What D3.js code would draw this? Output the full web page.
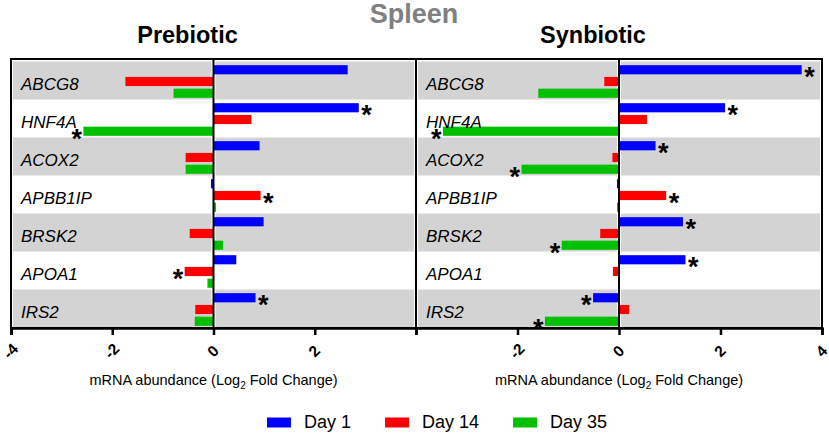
<!DOCTYPE html>
<html>
<head>
<meta charset="utf-8">
<script src="https://cdnjs.cloudflare.com/ajax/libs/d3/7.8.5/d3.min.js"></script>
<style>
  html, body { margin: 0; padding: 0; background: #fff; }
  svg { display: block; font-family: "Liberation Sans", Arial, sans-serif; }
</style>
</head>
<body>
<svg id="chart" width="829" height="434"></svg>
<script>
// Gene rows, top to bottom
const genes = ['ABCG8', 'HNF4A', 'ACOX2', 'APBB1IP', 'BRSK2', 'APOA1', 'IRS2'];
const days = ['Day 1', 'Day 14', 'Day 35'];

// Prebiotic, log2 fold change
const preDay1 = [2.65, 2.87, 0.91, -0.05, 0.99, 0.45, 0.83];
const preDay14 = [-1.74, 0.75, -0.55, 0.93, -0.47, -0.57, -0.36];
const preDay35 = [-0.79, -2.57, -0.55, 0.05, 0.19, -0.12, -0.37];
const preSig1 = [0, 1, 0, 0, 0, 0, 1];
const preSig14 = [0, 0, 0, 1, 0, 1, 0];
const preSig35 = [0, 1, 0, 0, 0, 0, 0];

// Synbiotic, log2 fold change
const synDay1 = [3.6, 2.09, 0.72, -0.04, 1.26, 1.31, -0.51];
const synDay14 = [-0.29, 0.55, -0.13, 0.93, -0.37, -0.12, 0.2];
const synDay35 = [-1.59, -3.47, -1.92, -0.04, -1.13, 0, -1.46];
const synSig1 = [1, 1, 1, 0, 1, 1, 1];
const synSig14 = [0, 0, 0, 1, 0, 0, 0];
const synSig35 = [0, 1, 1, 0, 1, 0, 1];

const xDomain = [-4, 4];
const leftTicks = [-4, -2, 0, 2];
const rightTicks = [-2, 0, 2, 4];
const tickLabels = { '-4': '-4', '-2': '-2', '0': '0', '2': '2', '4': '4' };

const COLORS = { 'Day 1': '#0000ff', 'Day 14': '#ff0000', 'Day 35': '#00c000' };

const svg = d3.select('#chart');
const plotTop = 59, plotBottom = 328;

const y = d3.scaleBand().domain(genes).range([61.5, 327.5]).paddingInner(0);
const yDay = d3.scaleBand().domain(days).range([2.5, y.bandwidth() - 0.5])
  .paddingInner(0.22).paddingOuter(0.1);

// Titles
svg.append('text')
  .attr('x', 414).attr('y', 23).attr('text-anchor', 'middle')
  .attr('fill', '#808080').attr('font-size', '27px').attr('font-weight', 'bold')
  .text('Spleen');

function drawPanel(title, x0, x1, series, sigs, ticks) {
  const x = d3.scaleLinear().domain(xDomain).range([x0, x1]);
  const g = svg.append('g');

  g.append('text')
    .attr('x', x(0) - 26).attr('y', 43).attr('text-anchor', 'middle')
    .attr('fill', '#000').attr('font-size', '23.5px').attr('font-weight', 'bold')
    .text(title);

  // Alternating row bands
  genes.forEach((gene, i) => {
    if (i % 2 !== 0) return;
    g.append('rect')
      .attr('x', x(-4) + 2).attr('y', y(gene))
      .attr('width', x(0) - x(-4) - 4).attr('height', y.bandwidth())
      .attr('fill', '#d3d3d3');
    g.append('rect')
      .attr('x', x(0) + 2).attr('y', y(gene))
      .attr('width', x(4) - x(0) - 4).attr('height', y.bandwidth())
      .attr('fill', '#d3d3d3');
  });

  // Bars
  days.forEach((day, k) => {
    const vals = series[k];
    const sig = sigs[k];
    genes.forEach((gene, i) => {
      const v = vals[i];
      const by = y(gene) + yDay(day);
      const bw = Math.max(Math.abs(x(v) - x(0)), v === 0 ? 0 : 2);
      if (bw > 0) {
        g.append('rect')
          .attr('x', v < 0 ? x(0) - bw : x(0)).attr('y', by)
          .attr('width', bw).attr('height', yDay.bandwidth())
          .attr('fill', COLORS[day]);
      }
      if (sig[i]) {
        g.append('text')
          .attr('x', v >= 0 ? x(v) + 2.5 : x(v) - 1.5)
          .attr('y', by + yDay.bandwidth() / 2 + 16.5)
          .attr('text-anchor', v >= 0 ? 'start' : 'end')
          .attr('font-size', '27px').attr('font-weight', 'bold')
          .attr('fill', '#000').text('*');
      }
    });
  });

  // Gene labels
  genes.forEach(gene => {
    g.append('text')
      .attr('x', x(-4) + 10).attr('y', y(gene) + y.bandwidth() / 2 + 9.5)
      .attr('font-size', '17px').attr('font-style', 'italic').attr('fill', '#000')
      .text(gene);
  });

  // Zero line
  g.append('line')
    .attr('x1', x(0)).attr('x2', x(0)).attr('y1', plotTop).attr('y2', plotBottom)
    .attr('stroke', '#000').attr('stroke-width', 2);

  // Frame
  g.append('rect')
    .attr('x', x(-4)).attr('y', plotTop)
    .attr('width', x(4) - x(-4)).attr('height', plotBottom - plotTop)
    .attr('fill', 'none').attr('stroke', '#000').attr('stroke-width', 2);

  // X axis
  const axis = d3.axisBottom(x).tickValues(ticks).tickSize(7).tickPadding(10)
    .tickFormat(d => tickLabels[String(d)]);
  const ag = g.append('g').attr('transform', `translate(0,${plotBottom})`).call(axis);
  ag.select('.domain').attr('stroke', '#000').attr('stroke-width', 2.5);
  ag.selectAll('.tick line').attr('stroke', '#000').attr('stroke-width', 2.5);
  ag.selectAll('.tick text')
    .attr('fill', '#000').attr('font-size', '15.5px').attr('font-weight', 'bold')
    .attr('font-family', '"Liberation Sans", Arial, sans-serif')
    .attr('text-anchor', 'middle').attr('dy', '0.35em').attr('y', 0)
    .attr('transform', 'translate(-1,23) rotate(-45)');

  // Axis title
  const t = g.append('text')
    .attr('x', x(0)).attr('y', 385).attr('text-anchor', 'middle')
    .attr('font-size', '14.5px').attr('fill', '#000');
  t.append('tspan').text('mRNA abundance (Log');
  t.append('tspan').attr('font-size', '10px').attr('dy', 4).text('2');
  t.append('tspan').attr('dy', -4).text(' Fold Change)');
}

drawPanel('Prebiotic', 11, 416, [preDay1, preDay14, preDay35], [preSig1, preSig14, preSig35], leftTicks);
drawPanel('Synbiotic', 416, 822, [synDay1, synDay14, synDay35], [synSig1, synSig14, synSig35], rightTicks);

// Legend
const legend = svg.append('g').attr('transform', 'translate(267,417.5)');
let lx = 0;
days.forEach(day => {
  legend.append('rect').attr('x', lx).attr('y', 0).attr('width', 24).attr('height', 10)
    .attr('fill', COLORS[day]);
  const txt = legend.append('text').attr('x', lx + 37).attr('y', 10.5)
    .attr('font-size', '18px').attr('fill', '#000').text(day);
  lx += 37 + txt.node().getComputedTextLength() + 34;
});
</script>
</body>
</html>
